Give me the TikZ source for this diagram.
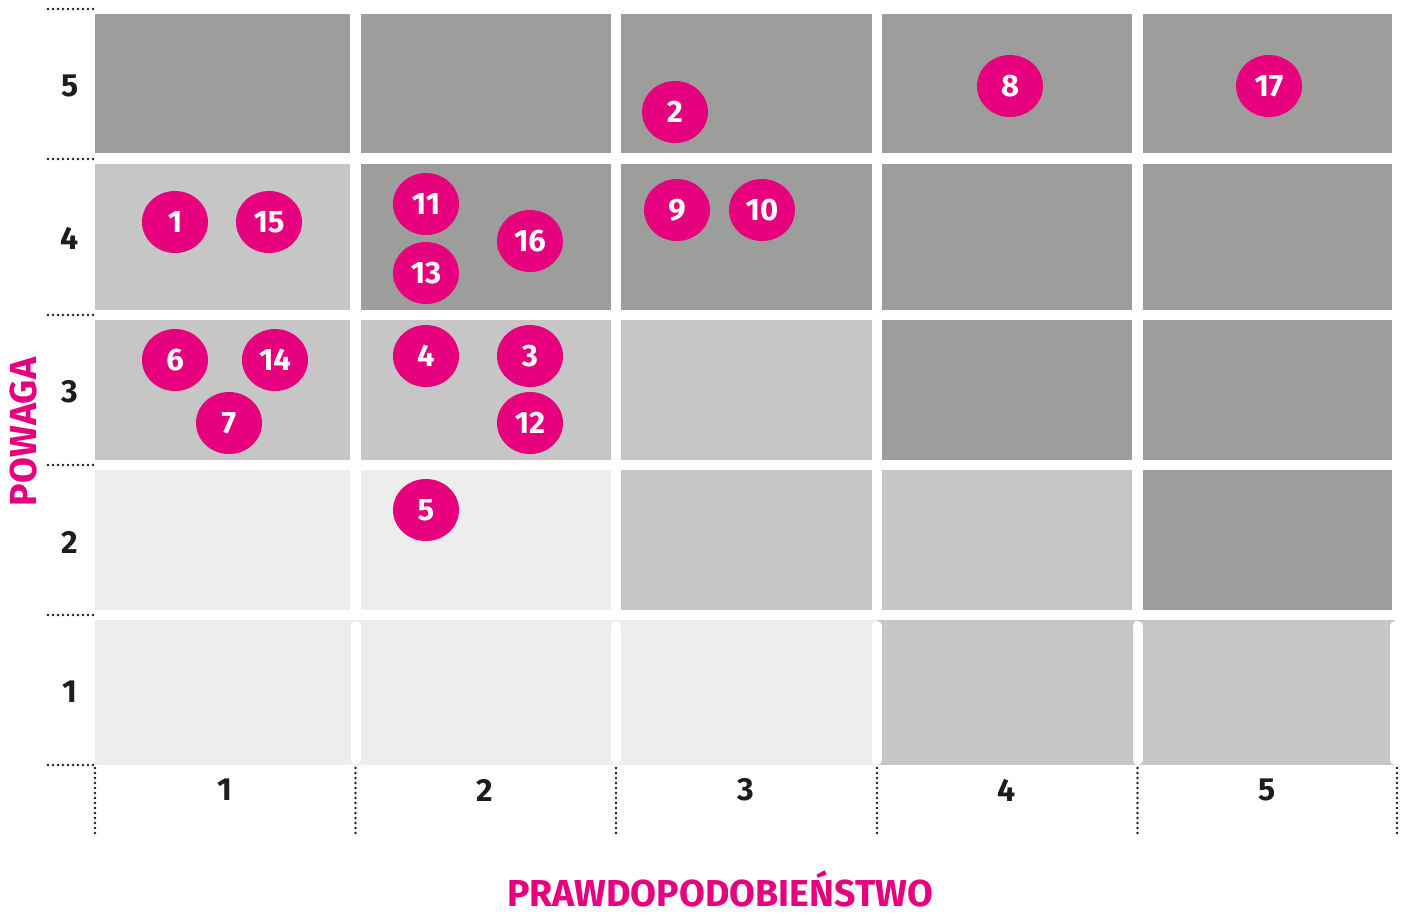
\documentclass[tikz,border=0pt]{standalone}
\usepackage{fontspec}
\setmainfont{Fira Sans}
\usetikzlibrary{shapes.geometric}
\definecolor{dk}{HTML}{9D9D9C}
\definecolor{md}{HTML}{C6C6C6}
\definecolor{lt}{HTML}{EDEDED}
\definecolor{mag}{HTML}{E6007E}
\definecolor{ink}{HTML}{1D1D1B}
\begin{document}
\begin{tikzpicture}[x=1pt,y=-1pt,
  risk/.style={ellipse, fill=mag, minimum width=66pt, minimum height=62pt, inner sep=0pt, text=white, font=\bfseries\fontsize{31}{31}\selectfont},
  axnum/.style={text=ink, font=\bfseries\fontsize{32}{32}\selectfont, inner sep=0pt},
  axtitle/.style={text=mag, font=\bfseries\fontsize{37.5}{37.5}\selectfont, inner sep=0pt},
  dots/.style={draw=ink, line width=2.6pt, line cap=round, dash pattern=on 0pt off 5pt},
  sep/.style={draw=white, line width=10pt, line cap=round}]
\useasboundingbox (0,0) rectangle (1406,914);
% row 5
\fill[dk] (95,14) rectangle (350,153);
\fill[dk] (361,14) rectangle (611,153);
\fill[dk] (621,14) rectangle (872,153);
\fill[dk] (882,14) rectangle (1132,153);
\fill[dk] (1143,14) rectangle (1392,153);
% row 4
\fill[md] (95,164) rectangle (350,310);
\fill[dk] (361,164) rectangle (611,310);
\fill[dk] (621,164) rectangle (872,310);
\fill[dk] (882,164) rectangle (1132,310);
\fill[dk] (1143,164) rectangle (1392,310);
% row 3
\fill[md] (95,320) rectangle (350,460);
\fill[md] (361,320) rectangle (611,460);
\fill[md] (621,320) rectangle (872,460);
\fill[dk] (882,320) rectangle (1132,460);
\fill[dk] (1143,320) rectangle (1392,460);
% row 2
\fill[lt] (95,470) rectangle (350,610);
\fill[lt] (361,470) rectangle (611,610);
\fill[md] (621,470) rectangle (872,610);
\fill[md] (882,470) rectangle (1132,610);
\fill[dk] (1143,470) rectangle (1392,610);
% row 1
\fill[lt] (95,620) rectangle (355,765);
\fill[lt] (355,620) rectangle (616,765);
\fill[lt] (616,620) rectangle (877,765);
\fill[md] (877,620) rectangle (1137,765);
\fill[md] (1137,620) rectangle (1395,765);
\foreach \x in {355.5,616,877,1137.5,1395}
  \draw[sep] (\x,626) -- (\x,760);
% dotted guides
\foreach \y in {9,159,315,465,615,765}
  \draw[dots] (48,\y) -- (95,\y);
\foreach \x in {95,355.5,616,877,1137.5,1397}
  \draw[dots] (\x,768) -- (\x,833);
% axis numbers
\node[axnum] (y5) at (70,86) {5};
\node[axnum] (y4) at (70,238) {4};
\node[axnum] (y3) at (70,392) {3};
\node[axnum] (y2) at (70,542) {2};
\node[axnum] (y1) at (70,692) {1};
\node[axnum] (x1) at (225,790) {1};
\node[axnum] (x2) at (485,790) {2};
\node[axnum] (x3) at (746,790) {3};
\node[axnum] (x4) at (1007,790) {4};
\node[axnum] (x5) at (1267,790) {5};
% axis titles
\node[axtitle, rotate=90] (ytitle) at (24,432) {POWAGA};
\node[axtitle, anchor=base] (xtitle) at (720,906) {PRAWDOPODOBIEŃSTWO};
% risks
\node[risk] (r2) at (675,112) {2};
\node[risk] (r8) at (1010,86) {8};
\node[risk] (r17) at (1269,86) {17};
\node[risk] (r1) at (175,222) {1};
\node[risk] (r15) at (269,222) {15};
\node[risk] (r11) at (426,204) {11};
\node[risk] (r13) at (426,273) {13};
\node[risk] (r16) at (530,241) {16};
\node[risk] (r9) at (677,210) {9};
\node[risk] (r10) at (762,210) {10};
\node[risk] (r6) at (175,360) {6};
\node[risk] (r14) at (275,360) {14};
\node[risk] (r7) at (229,423) {7};
\node[risk] (r4) at (426,356) {4};
\node[risk] (r3) at (530,356) {3};
\node[risk] (r12) at (530,423) {12};
\node[risk] (r5) at (426,510) {5};
\end{tikzpicture}
\end{document}
